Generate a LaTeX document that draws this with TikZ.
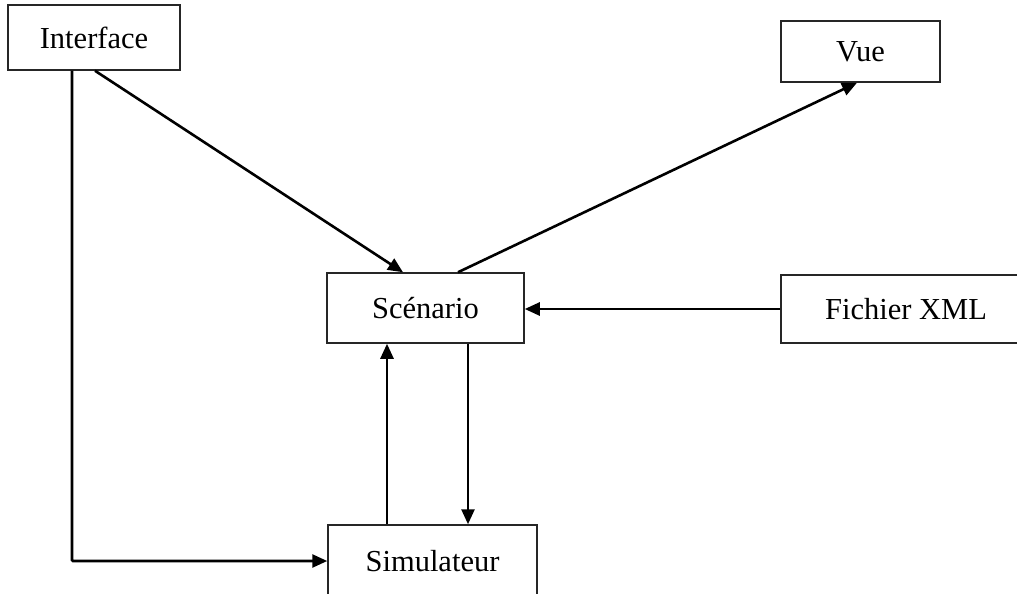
\documentclass[tikz,border=0pt]{standalone}
\usepackage{fontspec}
\setmainfont{Liberation Serif}
\usetikzlibrary{arrows.meta}
\begin{document}
\begin{tikzpicture}[x=1pt,y=-1pt,
  box/.style={draw=black!85,line width=1.5pt,fill=white,inner sep=0pt,font=\fontsize{30.5}{36}\selectfont},
  conn/.style={line width=2.6pt,-{Triangle[length=15pt,width=13pt]}}]
\useasboundingbox (0,0) rectangle (1017,594);
\fill[white] (0,0) rectangle (1017,594);
\node[box,minimum width=172pt,minimum height=65pt] (iface) at (94,37.5) {Interface};
\node[box,minimum width=159pt,minimum height=61pt] (vue) at (860.5,51.5) {Vue};
\node[box,minimum width=197pt,minimum height=70pt] (scen) at (425.5,308) {Scénario};
\node[box,minimum width=250pt,minimum height=68pt] (fich) at (906,309) {Fichier XML};
\node[box,minimum width=209pt,minimum height=72pt] (sim) at (432.5,561) {Simulateur};
\draw[conn] ([xshift=1pt]iface.south) -- ([xshift=-22.5pt]scen.north);
\draw[conn] ([xshift=32.5pt]scen.north) -- ([xshift=-3.5pt]vue.south);
\draw[conn] (fich.west) -- (fich.west -| scen.east);
\draw[conn] ([xshift=42.5pt]scen.south) -- ([xshift=42.5pt]scen.south |- sim.north);
\draw[conn] ([xshift=-45.5pt]sim.north) -- ([xshift=-45.5pt]sim.north |- scen.south);
\draw[conn,rounded corners=1pt] ([xshift=-22pt]iface.south) |- (sim.west);
\end{tikzpicture}
\end{document}
